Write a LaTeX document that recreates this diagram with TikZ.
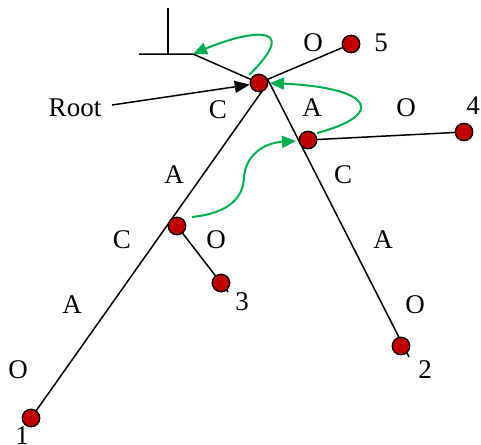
\documentclass[tikz,border=0pt]{standalone}
\usepackage{fontspec}
\setmainfont{Liberation Serif}
\usetikzlibrary{arrows.meta,backgrounds}
\definecolor{dotred}{HTML}{C00000}
\definecolor{grn}{HTML}{00B050}
\begin{document}
\begin{tikzpicture}[x=1pt,y=-1pt,
  dot/.style={circle,draw=black,line width=1.3pt,fill=dotred,minimum size=17.5pt,inner sep=0},
  lbl/.style={inner sep=0,font=\fontsize{27}{30}\selectfont},
  edge/.style={line width=1.5pt,draw=black},
  flow/.style={draw=grn,line width=2pt,-{Triangle[length=14pt,width=12pt]}}]
\useasboundingbox (0,0) rectangle (481,444);
% nodes
\node[dot] (r)  at (259,83) {};
\node[dot] (n5) at (351,44) {};
\node[dot] (na) at (308,140) {};
\node[dot] (n4) at (464,132) {};
\node[dot] (nm) at (177,226) {};
\node[dot] (n3) at (221,283) {};
\node[dot] (n1) at (31,418) {};
\node[dot] (n2) at (401,346) {};
% helper coordinates
\coordinate (rl) at (265,87);
\coordinate (rr) at (268,80);
\coordinate (e2) at (409,357);
\coordinate (e3) at (228,292);
\coordinate (hl) at (139,54);
\coordinate (hr) at (193,54);
\coordinate (vt) at (168,8);
\coordinate (vb) at (168,54);
\coordinate (rs) at (112,105);
% labels
\node[lbl] (lO5) at (313,43) {O};
\node[lbl] (l5) at (381,43) {5};
\node[lbl] (lCr) at (218,110) {C};
\node[lbl] (lAr) at (312,108) {A};
\node[lbl] (lO4) at (406,108) {O};
\node[lbl] (l4) at (473,106) {4};
\node[lbl] (lCa) at (343,175) {C};
\node[lbl] (lAm) at (174,175) {A};
\node[lbl] (lCm) at (122,240) {C};
\node[lbl] (lOm) at (216,240) {O};
\node[lbl] (lA2) at (383,240) {A};
\node[lbl] (lA1) at (72,305) {A};
\node[lbl] (lO2) at (415,305) {O};
\node[lbl] (l3) at (242,302) {3};
\node[lbl] (lO1) at (18,370) {O};
\node[lbl] (l2) at (425,370) {2};
\node[lbl] (l1) at (22,436) {1};
\node[lbl] (lroot) at (75,108) {Root};
% black edges
\begin{pgfonlayer}{background}
\draw[edge] (rl) -- (n1.center);
\draw[edge] (rr) -- (e2);
\draw[edge] (r.center) -- (n5.center);
\draw[edge] (na.center) -- (n4.center);
\draw[edge] (nm.center) -- (e3);
\draw[edge] (hl) -- (hr) -- (r.center);
\draw[edge] (vt) -- (vb);
\end{pgfonlayer}
\draw[edge,-{Triangle[length=15pt,width=12pt]}] (rs) -- (r.190);
% green flows
\draw[flow] (249,75) .. controls (305,20) and (245,32) .. (hr);
\draw[flow] (317,133) .. controls (385,115) and (375,88) .. (270,83);
\draw[flow] (192,217) .. controls (230,213) and (243,197) .. (244,178) .. controls (245,157) and (262,143) .. (296,141);
\end{tikzpicture}
\end{document}
